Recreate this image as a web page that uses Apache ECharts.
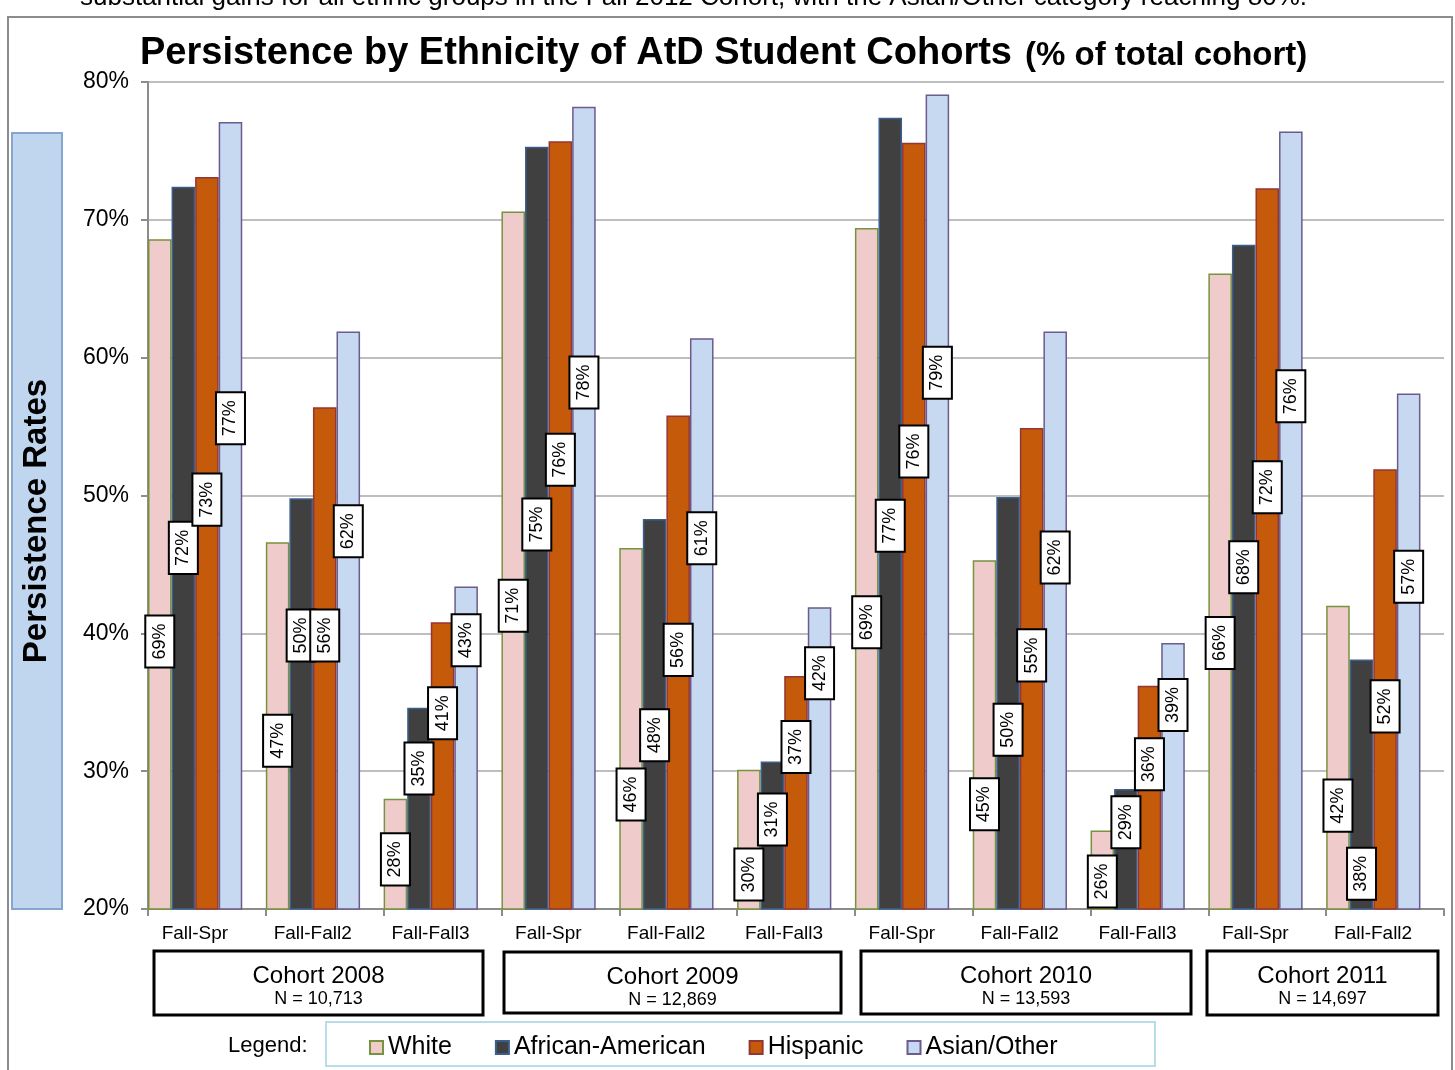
<!DOCTYPE html>
<html>
<head>
<meta charset="utf-8">
<script src="https://cdn.jsdelivr.net/npm/echarts@6/dist/echarts.min.js"></script>
<style>
  html, body { margin: 0; padding: 0; background: #ffffff; }
  #chart { width: 1455px; height: 1070px; }
</style>
</head>
<body>
<div id="chart"></div>
<script>
// ---- data ----
const categories = ['Fall-Spr', 'Fall-Fall2', 'Fall-Fall3',
                    'Fall-Spr', 'Fall-Fall2', 'Fall-Fall3',
                    'Fall-Spr', 'Fall-Fall2', 'Fall-Fall3',
                    'Fall-Spr', 'Fall-Fall2'];
const seriesNames = ['White', 'African-American', 'Hispanic', 'Asian/Other'];

const white    = [68.6, 46.6, 28.0, 70.6, 46.2, 30.1, 69.4, 45.3, 25.7, 66.1, 42.0];
const african  = [72.4, 49.8, 34.6, 75.3, 48.3, 30.7, 77.4, 49.9, 28.7, 68.2, 38.1];
const hispanic = [73.1, 56.4, 40.8, 75.7, 55.8, 36.9, 75.6, 54.9, 36.2, 72.3, 51.9];
const asian    = [77.1, 61.9, 43.4, 78.2, 61.4, 41.9, 79.1, 61.9, 39.3, 76.4, 57.4];

const yTicks = [20, 30, 40, 50, 60, 70, 80];

const cohortNames = ['Cohort 2008', 'Cohort 2009', 'Cohort 2010', 'Cohort 2011'];
const cohortSizes = ['N = 10,713', 'N = 12,869', 'N = 13,593', 'N = 14,697'];

// heights (in axis units) where each value tag is centred
const tagWhite    = [39.4, 32.2, 23.6, 42.0, 28.3, 22.5, 40.8, 27.6, 22.0, 39.3, 27.5];
const tagAfrican  = [46.2, 39.85, 30.2, 47.9, 32.6, 26.5, 47.8, 33.0, 26.3, 44.8, 22.55];
const tagHispanic = [49.7, 39.85, 34.2, 52.6, 38.8, 31.75, 53.2, 38.4, 30.5, 50.6, 34.7];
const tagAsian    = [55.6, 47.4, 39.5, 58.2, 46.9, 37.1, 58.9, 45.5, 34.8, 57.2, 44.1];

const introText = 'substantial gains for all ethnic groups in the Fall 2012 Cohort, with the Asian/Other category reaching 80%.';
const titleMain = 'Persistence by Ethnicity of AtD Student Cohorts';
const titleSub = '(% of total cohort)';

// ---- styling ----
const FONT = '"Liberation Sans", Arial, Helvetica, sans-serif';
const fills   = ['#EFCBCB', '#404040', '#C55A0B', '#C6D9F1'];
const borders = ['#77933C', '#3A5F8F', '#943634', '#6B5B8F'];
const values  = [white, african, hispanic, asian];
const tags    = [tagWhite, tagAfrican, tagHispanic, tagAsian];
const SLOTS = 5; // four ethnic groups plus one empty slot per category

const chart = echarts.init(document.getElementById('chart'), null, { renderer: 'canvas' });

function textWidth(str, font) {
  const c = document.createElement('canvas').getContext('2d');
  c.font = font;
  return c.measureText(str).width;
}

const barSeries = values.map((vals, i) => ({
  type: 'bar',
  name: seriesNames[i],
  data: vals,
  barGap: '0%',
  barCategoryGap: '0%',
  itemStyle: { color: fills[i], borderColor: borders[i], borderWidth: 1.5 },
  z: 2
}));
barSeries.push({ type: 'bar', name: 'slot', data: [], barGap: '0%', barCategoryGap: '0%' });

const tagData = [];
values.forEach((vals, s) => {
  vals.forEach((v, i) => tagData.push([i, tags[s][i], v, s]));
});

const tagSeries = {
  type: 'custom',
  name: 'tags',
  data: tagData,
  encode: { x: 0, y: 1 },
  z: 10,
  silent: true,
  renderItem: function (params, api) {
    const c = api.coord([api.value(0), api.value(1)]);
    const cw = api.size([1, 0])[0];
    const bw = cw / SLOTS;
    const s = api.value(3);
    const x = c[0] - cw / 2 + bw * (s + 0.5);
    return {
      type: 'text',
      x: x,
      y: c[1],
      rotation: Math.PI / 2,
      style: {
        text: Math.round(api.value(2)) + '%',
        font: '18px ' + FONT,
        fill: '#000',
        align: 'center',
        verticalAlign: 'middle',
        backgroundColor: '#ffffff',
        borderColor: '#000000',
        borderWidth: 2,
        padding: [5, 7, 4, 7]
      }
    };
  }
};

const titleFontA = 'bold 38px ' + FONT;
const titleWidthA = textWidth(titleMain, titleFontA);

const cohortBoxes = [[154, 951, 329, 64], [504, 952, 337, 61], [861, 951, 330, 63], [1207, 951, 231, 64]];

const graphics = [
  // outer frame
  { type: 'rect', shape: { x: 8, y: 17, width: 1444, height: 1100 },
    style: { fill: 'none', stroke: '#8C8C8C', lineWidth: 2 }, z: 0 },
  // running text above the frame
  { type: 'text', x: 80, y: 11,
    style: { text: introText, font: '26px ' + FONT, fill: '#000', verticalAlign: 'bottom' } },
  // title
  { type: 'text', x: 140, y: 54,
    style: { text: titleMain, font: titleFontA, fill: '#000', verticalAlign: 'middle' } },
  { type: 'text', x: 140 + titleWidthA + 13, y: 56,
    style: { text: titleSub, font: 'bold 33px ' + FONT, fill: '#000', verticalAlign: 'middle' } },
  // y axis name panel
  { type: 'rect', shape: { x: 12, y: 133, width: 50, height: 776 },
    style: { fill: '#C0D5EE', stroke: '#86A6D0', lineWidth: 2 } },
  { type: 'text', x: 37, y: 521, rotation: Math.PI / 2,
    style: { text: 'Persistence Rates', font: 'bold 33px ' + FONT, fill: '#000',
             align: 'center', verticalAlign: 'middle' } },
  // legend frame and caption
  { type: 'rect', shape: { x: 326, y: 1022, width: 829, height: 44 },
    style: { fill: 'none', stroke: '#B6DDE8', lineWidth: 2 } },
  { type: 'text', x: 228, y: 1046,
    style: { text: 'Legend:', font: '22px ' + FONT, fill: '#000', verticalAlign: 'middle' } }
];

cohortBoxes.forEach((b, k) => {
  graphics.push({ type: 'rect', shape: { x: b[0], y: b[1], width: b[2], height: b[3] },
    style: { fill: '#fff', stroke: '#000', lineWidth: 3 } });
  graphics.push({ type: 'text', x: b[0] + b[2] / 2, y: b[1] + 25,
    style: { text: cohortNames[k], font: '24px ' + FONT, fill: '#000', align: 'center', verticalAlign: 'middle' } });
  graphics.push({ type: 'text', x: b[0] + b[2] / 2, y: b[1] + 48,
    style: { text: cohortSizes[k], font: '18px ' + FONT, fill: '#000', align: 'center', verticalAlign: 'middle' } });
});

const option = {
  animation: false,
  backgroundColor: '#ffffff',
  textStyle: { fontFamily: FONT },
  grid: { left: 148, right: 11, top: 82, bottom: 161, containLabel: false },
  legend: {
    data: seriesNames,
    left: 364,
    top: 1030,
    icon: 'rect',
    itemWidth: 13,
    itemHeight: 13,
    itemGap: 43,
    textStyle: { fontSize: 25, color: '#000', fontFamily: FONT },
    selectedMode: false
  },
  xAxis: {
    type: 'category',
    data: categories,
    axisLine: { lineStyle: { color: '#8C8C8C', width: 2 } },
    axisTick: { show: true, length: 7, lineStyle: { color: '#8C8C8C', width: 2 } },
    axisLabel: { color: '#000', fontSize: 19, margin: 15, interval: 0, fontFamily: FONT,
                 padding: [0, 24, 0, 0] },
    splitLine: { show: false }
  },
  yAxis: {
    type: 'value',
    min: yTicks[0],
    max: yTicks[yTicks.length - 1],
    interval: yTicks[1] - yTicks[0],
    axisLine: { show: true, lineStyle: { color: '#8C8C8C', width: 2 } },
    axisTick: { show: true, length: 7, lineStyle: { color: '#8C8C8C', width: 2 } },
    axisLabel: { color: '#000', fontSize: 23, margin: 19, formatter: '{value}%', fontFamily: FONT },
    splitLine: { show: true, lineStyle: { color: '#A8A8A8', width: 1.5 } }
  },
  series: barSeries.concat([tagSeries]),
  graphic: { elements: graphics }
};

chart.setOption(option);
</script>
</body>
</html>
